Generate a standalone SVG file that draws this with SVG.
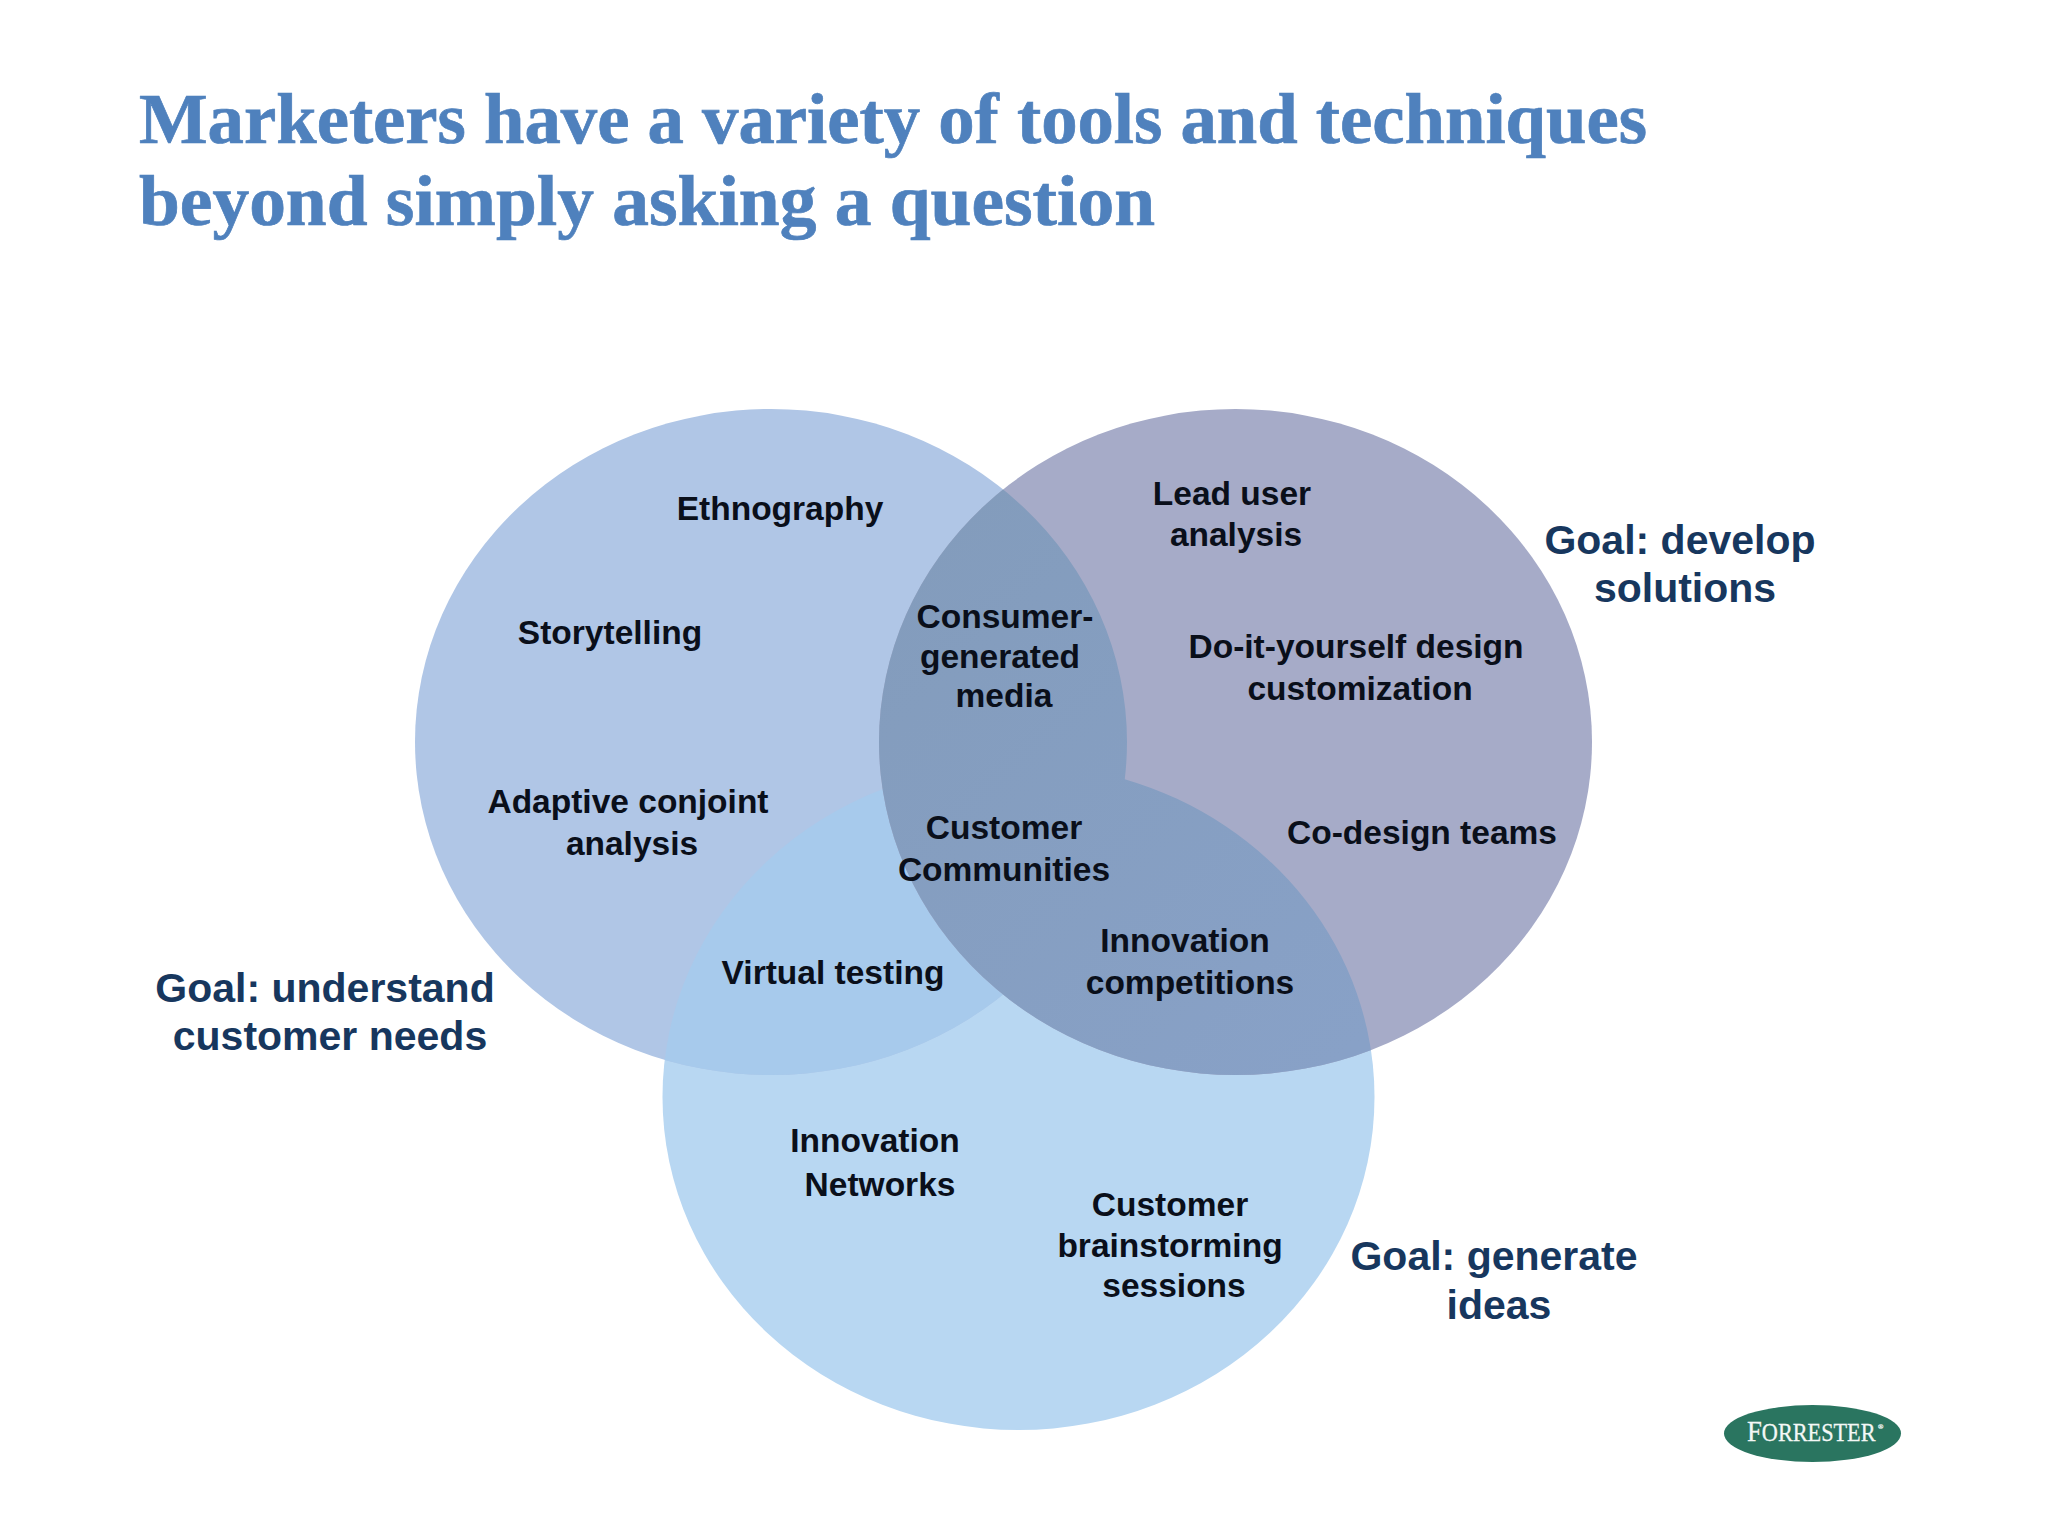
<svg xmlns="http://www.w3.org/2000/svg" width="2048" height="1536" viewBox="0 0 2048 1536">
<style>
.t{font-family:"Liberation Serif",serif;font-weight:700;font-size:72px;fill:#4F81BD;stroke:#4F81BD;stroke-width:.7}
.l{font-family:"Liberation Sans",Arial,sans-serif;font-weight:700;font-size:33.5px;fill:#0A0F1A;text-anchor:middle}
.g{font-family:"Liberation Sans",Arial,sans-serif;font-weight:700;font-size:41px;fill:#17375E;text-anchor:middle}
.c{font-family:"Liberation Serif",serif;fill:#F4F8F6;stroke:#F4F8F6;stroke-width:.3}
</style>
<defs>
<ellipse id="cl" cx="771" cy="742" rx="356" ry="333"/>
<ellipse id="cr" cx="1235.5" cy="742" rx="356.5" ry="333"/>
<ellipse id="cb" cx="1018.5" cy="1097" rx="356" ry="333"/>
<clipPath id="inL"><use href="#cl"/></clipPath>
<clipPath id="inLB"><use href="#cl"/><use href="#cb"/></clipPath>
<linearGradient id="lens" gradientUnits="userSpaceOnUse" x1="900" y1="550" x2="1350" y2="1050">
<stop offset="0" stop-color="#839CBC"/><stop offset="1" stop-color="#88A1C7"/>
</linearGradient>
</defs>
<rect width="2048" height="1536" fill="#FFFFFF"/>
<g id="title">
<text class="t" x="139" y="143" textLength="1508" lengthAdjust="spacingAndGlyphs">Marketers have a variety of tools and techniques</text>
<text class="t" x="139" y="225" textLength="1016" lengthAdjust="spacingAndGlyphs">beyond simply asking a question</text>
</g>
<g id="venn">
<use href="#cb" fill="#B8D7F2"/>
<use href="#cl" fill="#B0C6E6"/>
<g clip-path="url(#inL)"><use href="#cb" fill="#A7CAEC"/></g>
<use href="#cr" fill="#A6ABC8"/>
<g clip-path="url(#inLB)"><use href="#cr" fill="url(#lens)"/></g>
</g>
<g id="node-ethnography"><text class="l" x="780" y="520">Ethnography</text></g>
<g id="node-storytelling"><text class="l" x="610" y="644">Storytelling</text></g>
<g id="node-adaptive"><text class="l" x="628" y="813">Adaptive conjoint</text><text class="l" x="632" y="855">analysis</text></g>
<g id="node-virtual"><text class="l" x="833" y="984">Virtual testing</text></g>
<g id="node-networks"><text class="l" x="875" y="1152">Innovation</text><text class="l" x="880" y="1196">Networks</text></g>
<g id="node-brainstorming"><text class="l" x="1170" y="1216">Customer</text><text class="l" x="1170" y="1257">brainstorming</text><text class="l" x="1174" y="1297">sessions</text></g>
<g id="node-leaduser"><text class="l" x="1232" y="505">Lead user</text><text class="l" x="1236" y="546">analysis</text></g>
<g id="node-diy"><text class="l" x="1356" y="658">Do-it-yourself design</text><text class="l" x="1360" y="700">customization</text></g>
<g id="node-codesign"><text class="l" x="1422" y="844">Co-design teams</text></g>
<g id="node-cgm"><text class="l" x="1005" y="628">Consumer-</text><text class="l" x="1000" y="668">generated</text><text class="l" x="1004" y="707">media</text></g>
<g id="node-communities"><text class="l" x="1004" y="839">Customer</text><text class="l" x="1004" y="881">Communities</text></g>
<g id="node-competitions"><text class="l" x="1185" y="952">Innovation</text><text class="l" x="1190" y="994">competitions</text></g>
<g id="goal-develop"><text class="g" x="1680" y="554">Goal: develop</text><text class="g" x="1685" y="602">solutions</text></g>
<g id="goal-understand"><text class="g" x="325" y="1002">Goal: understand</text><text class="g" x="330" y="1050">customer needs</text></g>
<g id="goal-generate"><text class="g" x="1494" y="1270">Goal: generate</text><text class="g" x="1499" y="1319">ideas</text></g>
<g id="logo">
<ellipse cx="1812.5" cy="1433.5" rx="88.5" ry="28.5" fill="#2A7560"/>
<text class="c" transform="translate(1747 1441) scale(.89 1)" x="0" y="0" font-size="25"><tspan font-size="30">F</tspan>ORRESTER</text>
<text class="c" x="1878" y="1429" font-size="7">®</text>
</g>
</svg>
